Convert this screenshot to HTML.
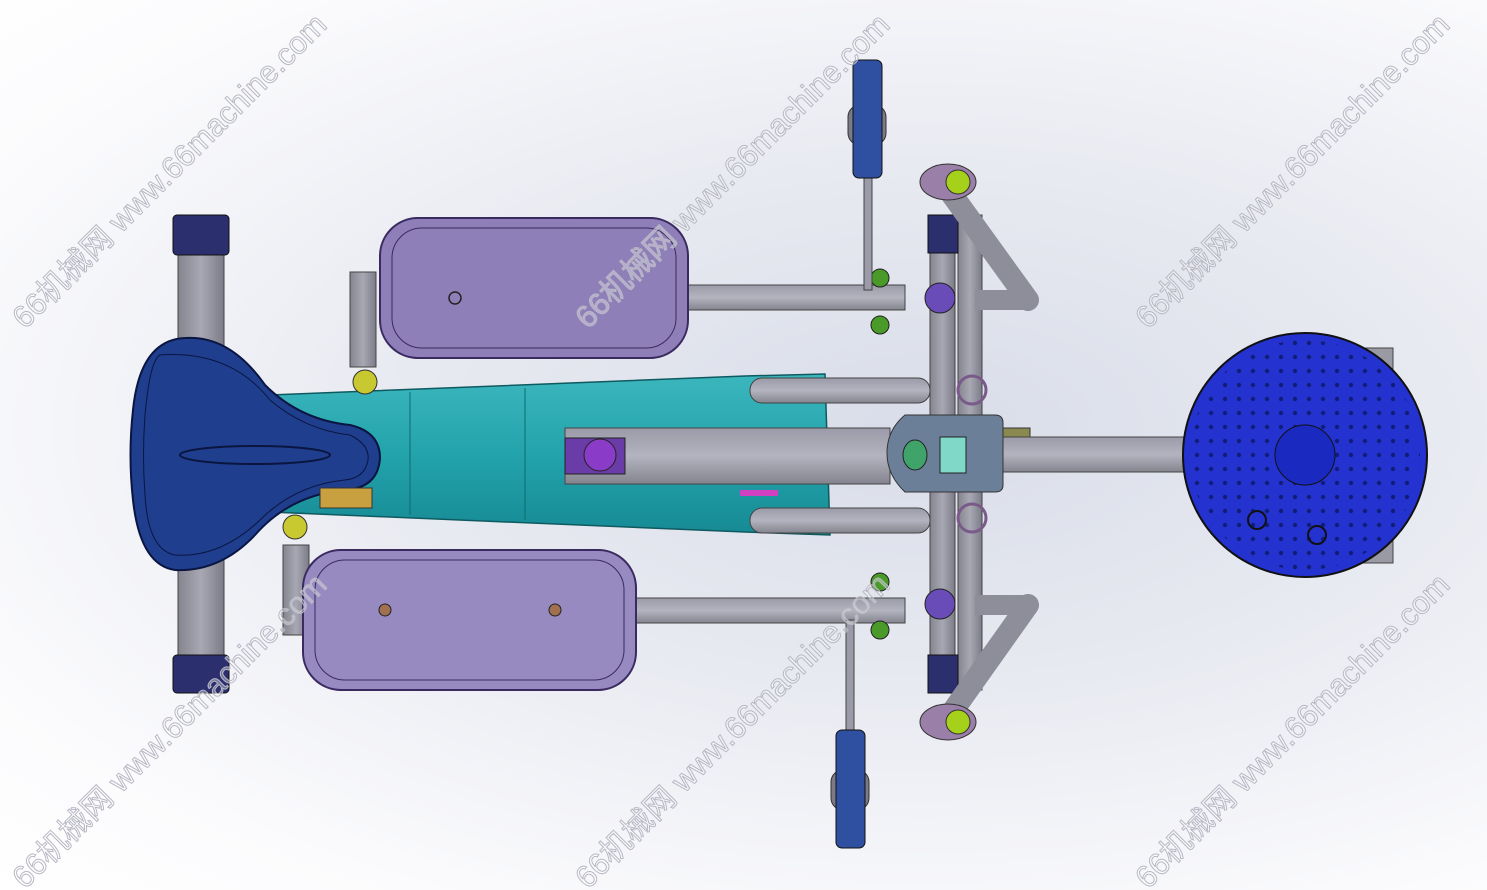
<!DOCTYPE html>
<html><head><meta charset="utf-8"><style>
html,body{margin:0;padding:0;width:1487px;height:890px;overflow:hidden}
body{background:radial-gradient(ellipse at 62% 48%,#d9dde9 0%,#e8eaf1 40%,#fbfbfd 80%,#ffffff 100%)}
svg{position:absolute;left:0;top:0}
</style></head><body>
<svg width="1487" height="890" viewBox="0 0 1487 890" xmlns="http://www.w3.org/2000/svg">
<defs>
<linearGradient id="gt" x1="0" y1="0" x2="0" y2="1"><stop offset="0" stop-color="#9a9aa8"/><stop offset=".5" stop-color="#b4b4c0"/><stop offset="1" stop-color="#84848f"/></linearGradient>
<linearGradient id="gv" x1="0" y1="0" x2="1" y2="0"><stop offset="0" stop-color="#85858f"/><stop offset=".5" stop-color="#a8a8b4"/><stop offset="1" stop-color="#7c7c88"/></linearGradient>
<linearGradient id="teal" x1="0" y1="0" x2="0" y2="1"><stop offset="0" stop-color="#3cb6bd"/><stop offset=".5" stop-color="#23a3ac"/><stop offset="1" stop-color="#168a94"/></linearGradient>
<pattern id="dots" width="14" height="14" patternUnits="userSpaceOnUse"><circle cx="7" cy="7" r="2.2" fill="#0d1a6a"/></pattern>
</defs>

<!-- left crossbar -->
<rect x="178" y="230" width="46" height="450" fill="url(#gv)" stroke="#444" stroke-width="1"/>
<rect x="173" y="215" width="56" height="40" rx="4" fill="#2b2f6e" stroke="#111"/>
<rect x="173" y="655" width="56" height="38" rx="4" fill="#2b2f6e" stroke="#111"/>

<!-- right vertical bars -->
<rect x="930" y="215" width="25" height="475" fill="url(#gv)" stroke="#444"/>
<rect x="958" y="215" width="24" height="475" fill="url(#gv)" stroke="#444"/>
<rect x="928" y="215" width="30" height="38" fill="#2b2f6e" stroke="#111"/>
<rect x="928" y="655" width="30" height="38" fill="#2b2f6e" stroke="#111"/>

<!-- arms -->
<line x1="945" y1="185" x2="1028" y2="300" stroke="#8e8e9a" stroke-width="22" stroke-linecap="round"/>
<line x1="1028" y1="605" x2="950" y2="715" stroke="#8e8e9a" stroke-width="22" stroke-linecap="round"/>
<line x1="975" y1="300" x2="1028" y2="300" stroke="#8e8e9a" stroke-width="20"/>
<line x1="975" y1="605" x2="1028" y2="605" stroke="#8e8e9a" stroke-width="20"/>
<ellipse cx="948" cy="182" rx="28" ry="18" fill="#9a7fa8" stroke="#333"/>
<circle cx="958" cy="182" r="12" fill="#a6d11a" stroke="#333"/>
<ellipse cx="948" cy="722" rx="28" ry="18" fill="#9a7fa8" stroke="#333"/>
<circle cx="958" cy="722" r="12" fill="#a6d11a" stroke="#333"/>

<!-- horizontal pedal bars -->
<rect x="688" y="285" width="217" height="25" fill="url(#gt)" stroke="#444"/>
<rect x="636" y="598" width="269" height="25" fill="url(#gt)" stroke="#444"/>
<circle cx="880" cy="278" r="9" fill="#4a9a2a" stroke="#222"/><circle cx="880" cy="325" r="9" fill="#4a9a2a" stroke="#222"/>
<circle cx="880" cy="582" r="9" fill="#4a9a2a" stroke="#222"/><circle cx="880" cy="630" r="9" fill="#4a9a2a" stroke="#222"/>
<circle cx="940" cy="298" r="15" fill="#6a4cb8" stroke="#222"/>
<circle cx="940" cy="604" r="15" fill="#6a4cb8" stroke="#222"/>

<!-- teal frame -->
<polygon points="270,395 745,376 825,374 830,535 745,532 270,512" fill="url(#teal)" stroke="#0e5a60" stroke-width="1.5"/>
<line x1="410" y1="392" x2="410" y2="515" stroke="#0e6a72"/>
<line x1="525" y1="388" x2="525" y2="520" stroke="#0e6a72"/>
<!-- tubes over frame -->
<rect x="750" y="378" width="180" height="25" rx="12" fill="url(#gt)" stroke="#444"/>
<rect x="750" y="508" width="180" height="25" rx="12" fill="url(#gt)" stroke="#444"/>
<circle cx="972" cy="390" r="14" fill="none" stroke="#7a5a8a" stroke-width="3"/>
<circle cx="972" cy="518" r="14" fill="none" stroke="#7a5a8a" stroke-width="3"/>

<!-- center rail -->
<rect x="565" y="428" width="325" height="56" fill="url(#gt)" stroke="#444"/>
<rect x="565" y="438" width="60" height="36" fill="#6a3ca8" stroke="#222"/>
<circle cx="600" cy="455" r="16" fill="#8a3cc8" stroke="#222"/>
<rect x="1000" y="428" width="30" height="44" fill="#8a8a50" stroke="#333"/>
<rect x="1003" y="437" width="182" height="35" fill="url(#gt)" stroke="#444"/>
<rect x="740" y="490" width="38" height="6" fill="#d040c0"/>
<!-- console -->
<path d="M905,415 L995,415 Q1003,415 1003,423 L1003,485 Q1003,492 995,492 L905,492 Q887,475 887,453 Q887,430 905,415 Z" fill="#6c7f99" stroke="#333"/>
<ellipse cx="915" cy="455" rx="12" ry="15" fill="#3fa36a" stroke="#222"/>
<rect x="940" y="437" width="26" height="36" fill="#7fd8c8" stroke="#222"/>

<!-- disc -->
<rect x="1360" y="348" width="33" height="215" fill="#9a9aa4" stroke="#444"/>
<circle cx="1305" cy="455" r="122" fill="#2432d0" stroke="#111" stroke-width="2"/>
<circle cx="1305" cy="455" r="115" fill="url(#dots)" opacity=".85"/>
<circle cx="1305" cy="455" r="30" fill="#1a2ac0" stroke="#111"/>
<circle cx="1257" cy="520" r="9" fill="none" stroke="#111" stroke-width="2"/>
<circle cx="1317" cy="535" r="9" fill="none" stroke="#111" stroke-width="2"/>

<!-- seat -->
<path d="M185,338 Q230,335 265,385 Q300,420 350,425 Q380,432 380,458 Q378,488 345,490 Q290,495 255,535 Q220,572 175,570 Q140,565 133,500 Q128,455 133,410 Q140,340 185,338 Z" fill="#1f3e8e" stroke="#0a1640" stroke-width="2"/>
<path d="M160,355 Q230,350 270,400 Q305,430 350,435 Q370,445 368,460 Q365,478 345,480 Q295,485 260,520 Q220,558 175,555 Q148,550 145,495 Q142,455 145,415 Q150,360 160,355 Z" fill="none" stroke="#0a1640"/>
<ellipse cx="255" cy="455" rx="75" ry="9" fill="none" stroke="#0a1640" stroke-width="2"/>
<rect x="320" y="488" width="52" height="20" fill="#c8a040" stroke="#333"/>

<!-- posts near seat -->
<rect x="350" y="272" width="26" height="95" fill="url(#gv)" stroke="#444"/>
<circle cx="365" cy="382" r="12" fill="#c8c830" stroke="#333"/>
<rect x="283" y="545" width="26" height="90" fill="url(#gv)" stroke="#444"/>
<circle cx="295" cy="527" r="12" fill="#c8c830" stroke="#333"/>

<!-- pedals -->
<rect x="380" y="218" width="308" height="140" rx="38" fill="#8f7fb8" stroke="#3a2a60" stroke-width="2"/>
<rect x="392" y="228" width="284" height="120" rx="30" fill="none" stroke="#3a2a60"/>
<circle cx="455" cy="298" r="6" fill="none" stroke="#222" stroke-width="1.5"/>
<rect x="303" y="550" width="333" height="140" rx="38" fill="#978ac0" stroke="#3a2a60" stroke-width="2"/>
<rect x="315" y="560" width="309" height="120" rx="30" fill="none" stroke="#3a2a60"/>
<circle cx="385" cy="610" r="6" fill="#a07050" stroke="#222"/>
<circle cx="555" cy="610" r="6" fill="#a07050" stroke="#222"/>

<!-- handles -->
<rect x="864" y="175" width="8" height="115" fill="#9a9aa8" stroke="#444"/>
<rect x="848" y="105" width="38" height="40" rx="12" fill="#7a7a88" stroke="#333"/>
<rect x="853" y="60" width="29" height="118" rx="6" fill="#2f4fa0" stroke="#111"/>
<rect x="846" y="620" width="8" height="115" fill="#9a9aa8" stroke="#444"/>
<rect x="831" y="770" width="38" height="40" rx="12" fill="#7a7a88" stroke="#333"/>
<rect x="836" y="730" width="29" height="118" rx="6" fill="#2f4fa0" stroke="#111"/>

<!-- watermarks -->
<g font-family="'Liberation Sans','Noto Sans CJK SC',sans-serif" font-size="31" fill="rgba(255,255,255,0.35)" stroke="#b8b8c4" stroke-width="1">
<text transform="translate(25,330) rotate(-45)">66机械网 www.66machine.com</text>
<text transform="translate(588,330) rotate(-45)">66机械网 www.66machine.com</text>
<text transform="translate(1148,330) rotate(-45)">66机械网 www.66machine.com</text>
<text transform="translate(25,890) rotate(-45)">66机械网 www.66machine.com</text>
<text transform="translate(588,890) rotate(-45)">66机械网 www.66machine.com</text>
<text transform="translate(1148,890) rotate(-45)">66机械网 www.66machine.com</text>
</g>
</svg>
</body></html>
